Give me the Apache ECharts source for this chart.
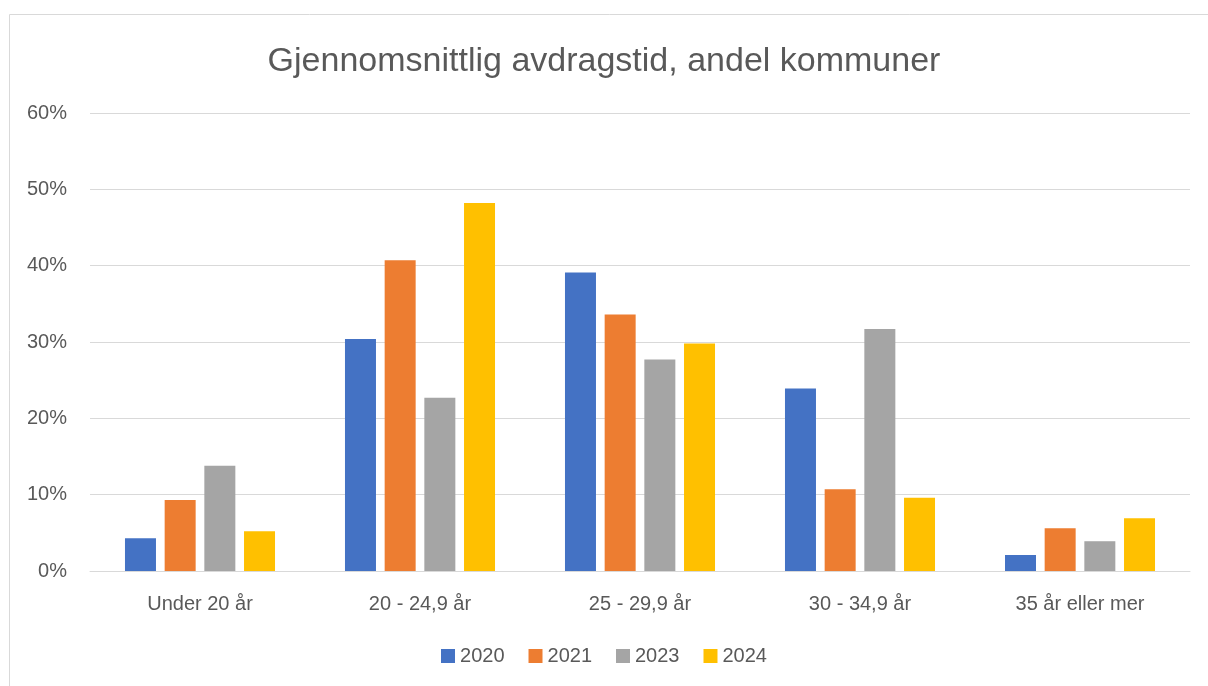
<!DOCTYPE html>
<head>
    <meta charset="utf-8"/>
    <style>
        html, body {
            height: 100%;
            margin: 0;
        }
        body {
            background-color: #fff;
        }
    </style>
    <script src="https://cdn.jsdelivr.net/npm/echarts@6/dist/echarts.min.js"></script>
</head>
<body>
<div id="main" style="height: 686px; width: 1208px;"></div>
<script type="text/javascript">
 var categories = ['Under 20 år', '20 - 24,9 år', '25 - 29,9 år', '30 - 34,9 år', '35 år eller mer'];
 var years = ['2020', '2021', '2023', '2024'];
 var v2020 = [4.3, 30.4, 39.1, 23.9, 2.1];
 var v2021 = [9.3, 40.7, 33.6, 10.7, 5.6];
 var v2023 = [13.8, 22.7, 27.7, 31.7, 3.9];
 var v2024 = [5.2, 48.2, 29.8, 9.6, 6.9];
 var yTicks = [0, 10, 20, 30, 40, 50, 60];
 var colors = ['#4472c4', '#ed7d31', '#a5a5a5', '#ffc000'];

 var font = 'Liberation Sans';
 var txt = '#595959';

 function bar(name, data, i) {
     return {
         name: name,
         type: 'bar',
         data: data,
         barWidth: 31,
         barGap: '28%',
         itemStyle: { color: colors[i] }
     };
 }

 var options = {
     animation: false,
     title: {
         text: 'Gjennomsnittlig avdragstid, andel kommuner',
         left: 'center',
         top: 40,
         textStyle: { fontFamily: font, fontSize: 34, fontWeight: 'normal', color: txt }
     },
     graphic: [{
         type: 'rect',
         shape: { x: 9.5, y: 14.5, width: 1300, height: 800 },
         style: { fill: 'none', stroke: '#d9d9d9', lineWidth: 1 },
         silent: true
     }],
     legend: {
         data: years,
         bottom: 15,
         left: 'center',
         itemWidth: 14,
         itemHeight: 14,
         itemGap: 24,
         icon: 'rect',
         textStyle: { fontFamily: font, fontSize: 20, color: txt }
     },
     grid: {
         left: 90,
         right: 18,
         top: 113,
         bottom: 115,
         containLabel: false
     },
     xAxis: {
         type: 'category',
         data: categories,
         axisLine: { lineStyle: { color: '#d9d9d9', width: 1 } },
         axisTick: { show: false },
         axisLabel: { fontFamily: font, fontSize: 20, color: txt, margin: 23 }
     },
     yAxis: {
         type: 'value',
         min: yTicks[0],
         max: yTicks[yTicks.length - 1],
         interval: 10,
         axisLine: { show: false },
         axisTick: { show: false },
         splitLine: { lineStyle: { color: '#d9d9d9', width: 1 } },
         axisLabel: {
             fontFamily: font, fontSize: 20, color: txt, margin: 23,
             formatter: '{value}%'
         }
     },
     series: [
         bar(years[0], v2020, 0),
         bar(years[1], v2021, 1),
         bar(years[2], v2023, 2),
         bar(years[3], v2024, 3)
     ]
 };

 var myChart = echarts.init(document.getElementById('main'));
 myChart.setOption(options);
</script>
</body>
